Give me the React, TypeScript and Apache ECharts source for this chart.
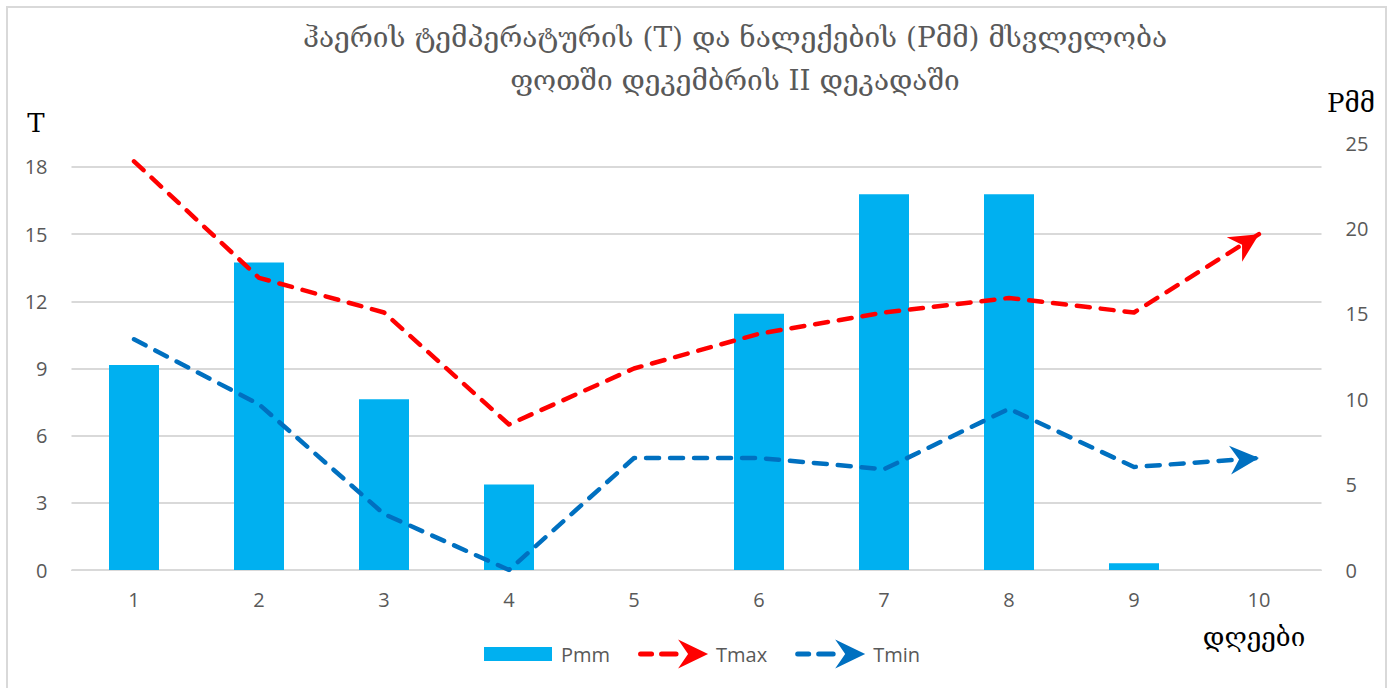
import React, { useEffect, useRef } from "react";
import * as echarts from "echarts";

const days = ["1", "2", "3", "4", "5", "6", "7", "8", "9", "10"];
const pmm = [12, 18, 10, 5, 0, 15, 22, 22, 0.4, 0];
const tmax = [18.25, 13.05, 11.5, 6.5, 9.0, 10.55, 11.5, 12.15, 11.5, 15.0];
const tmin = [10.3, 7.4, 2.5, 0, 5.0, 5.0, 4.5, 7.2, 4.6, 5.0];
const titleLine1 = "ჰაერის ტემპერატურის (T) და ნალექების (Pმმ) მსვლელობა";
const titleLine2 = "ფოთში დეკემბრის II დეკადაში";
const leftName = "T";
const rightName = "Pმმ";
const xName = "დღეები";

const GEO_FONT = "'DejaVu Serif', 'DejaVu Sans', serif";
const NUM_FONT = "'Open Sans', 'Noto Sans', sans-serif";
const GRAY = "#595959";
const GRID = "#d9d9d9";
const RED = "#ff0000";
const BLUE = "#0070c0";
const BAR = "#00b0f0";

const ARROW =
  "path://M0,0L29,14.5L0,29L9,14.5Z M58,14.5L57.99,14.5L58,14.49Z";
const LEG_BOX = "M0,0L0.01,0L0,0.01Z M70,29L69.99,29L70,28.99Z ";
const LEG_BAR = "path://" + LEG_BOX + "M1,7.5H69V21.5H1Z";
const LEG_LINE =
  "path://" +
  LEG_BOX +
  "M2.5,12H13.5A2.5,2.5 0 0 1 13.5,17H2.5A2.5,2.5 0 0 1 2.5,12Z " +
  "M23.5,12H38A2.5,2.5 0 0 1 38,17H23.5A2.5,2.5 0 0 1 23.5,12Z " +
  "M40,0L70,14.5L40,29L50,14.5Z";

function lineData(values: number[], color: string, rot: number) {
  return values.map((v, i) =>
    i === values.length - 1
      ? {
          value: v,
          symbol: ARROW,
          symbolSize: [58, 29],
          symbolRotate: rot,
          itemStyle: { color },
        }
      : { value: v }
  );
}

export default function App() {
  const ref = useRef<HTMLDivElement>(null);
  useEffect(() => {
    if (!ref.current) return;
    const chart = echarts.init(ref.current, null, { renderer: "svg" });
    const lineSeries = (name: string, values: number[], color: string) => ({
      name,
      type: "line",
      yAxisIndex: 0,
      data: lineData(values, color, 0),
      symbol: "circle",
      symbolSize: 0,
      showSymbol: true,
      showAllSymbol: true,
      itemStyle: { color },
      lineStyle: { color, width: 4.5, type: [13, 11], cap: "round", join: "round" },
      z: 3,
    });
    const titleText = (text: string, y: number) => ({
      type: "text",
      x: 735,
      y,
      style: {
        text,
        fill: GRAY,
        fontSize: 28,
        fontFamily: GEO_FONT,
        align: "center",
        verticalAlign: "middle",
      },
    });
    const nameText = (text: string, x: number, y: number) => ({
      type: "text",
      x,
      y,
      style: {
        text,
        fill: "#000000",
        fontSize: 26,
        fontFamily: GEO_FONT,
        align: "center",
        verticalAlign: "middle",
      },
    });
    const option: any = {
      animation: false,
      backgroundColor: "#ffffff",
      grid: { left: 71.5, right: 71.5, top: 143, bottom: 118, containLabel: false },
      legend: {
        left: 478,
        top: 634.5,
        itemWidth: 70,
        itemHeight: 29,
        itemGap: 28,
        selectedMode: false,
        textStyle: { color: GRAY, fontSize: 20, fontFamily: NUM_FONT, padding: [0, 0, 0, 3] },
        itemStyle: { borderWidth: 0 },
        data: [
          { name: "Pmm", icon: LEG_BAR, itemStyle: { color: BAR } },
          { name: "Tmax", icon: LEG_LINE, itemStyle: { color: RED } },
          { name: "Tmin", icon: LEG_LINE, itemStyle: { color: BLUE } },
        ],
      },
      xAxis: {
        type: "category",
        data: days,
        boundaryGap: true,
        axisTick: { show: false },
        axisLine: { show: true, lineStyle: { color: GRID, width: 1 } },
        axisLabel: { color: GRAY, fontSize: 20, fontFamily: NUM_FONT, margin: 19 },
        splitLine: { show: false },
      },
      yAxis: [
        {
          type: "value",
          min: 0,
          max: 19.07,
          interval: 3,
          axisLine: { show: false },
          axisTick: { show: false },
          axisLabel: {
            color: GRAY,
            fontSize: 20,
            fontFamily: NUM_FONT,
            margin: 24,
            showMaxLabel: false,
            formatter: (v: number) => (v % 3 === 0 ? String(v) : ""),
          },
          splitLine: { show: true, showMaxLine: false, lineStyle: { color: GRID, width: 2 } },
        },
        {
          type: "value",
          min: 0,
          max: 25,
          interval: 5,
          position: "right",
          axisLine: { show: false },
          axisTick: { show: false },
          axisLabel: { color: GRAY, fontSize: 20, fontFamily: NUM_FONT, margin: 24 },
          splitLine: { show: false },
        },
      ],
      graphic: [
        titleText(titleLine1, 37),
        titleText(titleLine2, 80),
        nameText(leftName, 36, 123),
        nameText(rightName, 1351, 103),
        nameText(xName, 1254, 637),
      ],
      series: [
        {
          name: "Pmm",
          type: "bar",
          yAxisIndex: 1,
          data: pmm,
          barWidth: 50,
          itemStyle: { color: BAR },
          z: 2,
        },
        lineSeries("Tmax", tmax, RED),
        lineSeries("Tmin", tmin, BLUE),
      ],
    };
    chart.setOption(option);

    const angleOf = (values: number[]) => {
      const n = values.length;
      const a = chart.convertToPixel({ xAxisIndex: 0, yAxisIndex: 0 } as any, [n - 2, values[n - 2]]) as number[];
      const b = chart.convertToPixel({ xAxisIndex: 0, yAxisIndex: 0 } as any, [n - 1, values[n - 1]]) as number[];
      return (Math.atan2(-(b[1] - a[1]), b[0] - a[0]) * 180) / Math.PI;
    };
    chart.setOption({
      series: [
        {},
        { data: lineData(tmax, RED, angleOf(tmax)) },
        { data: lineData(tmin, BLUE, angleOf(tmin)) },
      ],
    });

    return () => chart.dispose();
  }, []);

  return (
    <div style={{ position: "absolute", left: 0, top: 0, width: 1393, height: 688, background: "#fff", overflow: "hidden" }}>
      <div ref={ref} style={{ position: "absolute", left: 0, top: 0, width: 1393, height: 688 }} />
      <div
        style={{
          position: "absolute",
          left: 6,
          top: 6,
          width: 1381,
          height: 700,
          boxSizing: "border-box",
          border: "2px solid #d9d9d9",
          pointerEvents: "none",
        }}
      />
    </div>
  );
}
